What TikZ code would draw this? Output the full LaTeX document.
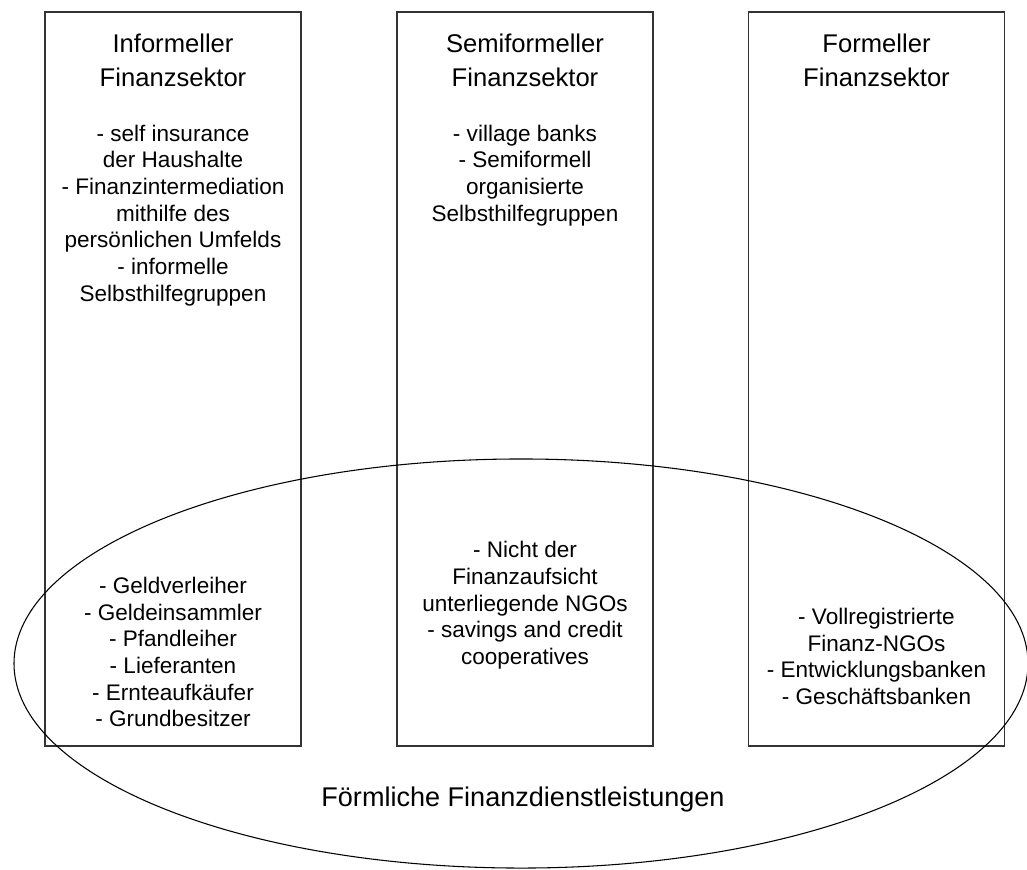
\documentclass[tikz,border=0pt]{standalone}
\usepackage{fontspec}
\setmainfont{Liberation Sans}
\begin{document}
\begin{tikzpicture}[x=0.75pt,y=-0.75pt,
  sector/.style={draw=black!80, line width=1pt, minimum width=192pt, minimum height=550.5pt, inner sep=0pt},
  head/.style={align=center, font=\fontsize{19.2}{25.5}\selectfont},
  body/.style={align=center, font=\fontsize{16.9}{20}\selectfont},
  caption/.style={font=\fontsize{20.3}{24}\selectfont},
  service/.style={draw=black, line width=0.8pt}
]
\useasboundingbox (0,0) rectangle (1027,869);

% the three sectors
\node[sector] (inf)  at (173,379) {};
\node[sector] (semi) at (525,379) {};
\node[sector] (form) at (876.5,379) {};

% formal financial services
\draw[service] (521,663.5) ellipse [x radius=380.25pt, y radius=153.4pt];

% headings
\node[head] (tinf)  at (173,60) {Informeller\\Finanzsektor};
\node[head] (tsemi) at (525,60) {Semiformeller\\Finanzsektor};
\node[head] (tform) at (876.5,60) {Formeller\\Finanzsektor};

% upper lists
\node[body] (uinf) at (173,215.4) {- self insurance\\der Haushalte\\- Finanzintermediation\\mithilfe des\\persönlichen Umfelds\\- informelle\\Selbsthilfegruppen};
\node[body] (usemi) at (525,175.4) {- village banks\\- Semiformell\\organisierte\\Selbsthilfegruppen};

% lower lists
\node[body] (linf) at (173,652) {- Geldverleiher\\- Geldeinsammler\\- Pfandleiher\\- Lieferanten\\- Ernteaufkäufer\\- Grundbesitzer};
\node[body] (lsemi) at (525,605.4) {- Nicht der\\Finanzaufsicht\\unterliegende NGOs\\- savings and credit\\cooperatives};
\node[body] (lform) at (876.5,656.4) {- Vollregistrierte\\Finanz-NGOs\\- Entwicklungsbanken\\- Geschäftsbanken};

\node[caption] (cap) at (523,799.7) {Förmliche Finanzdienstleistungen};
\end{tikzpicture}
\end{document}
